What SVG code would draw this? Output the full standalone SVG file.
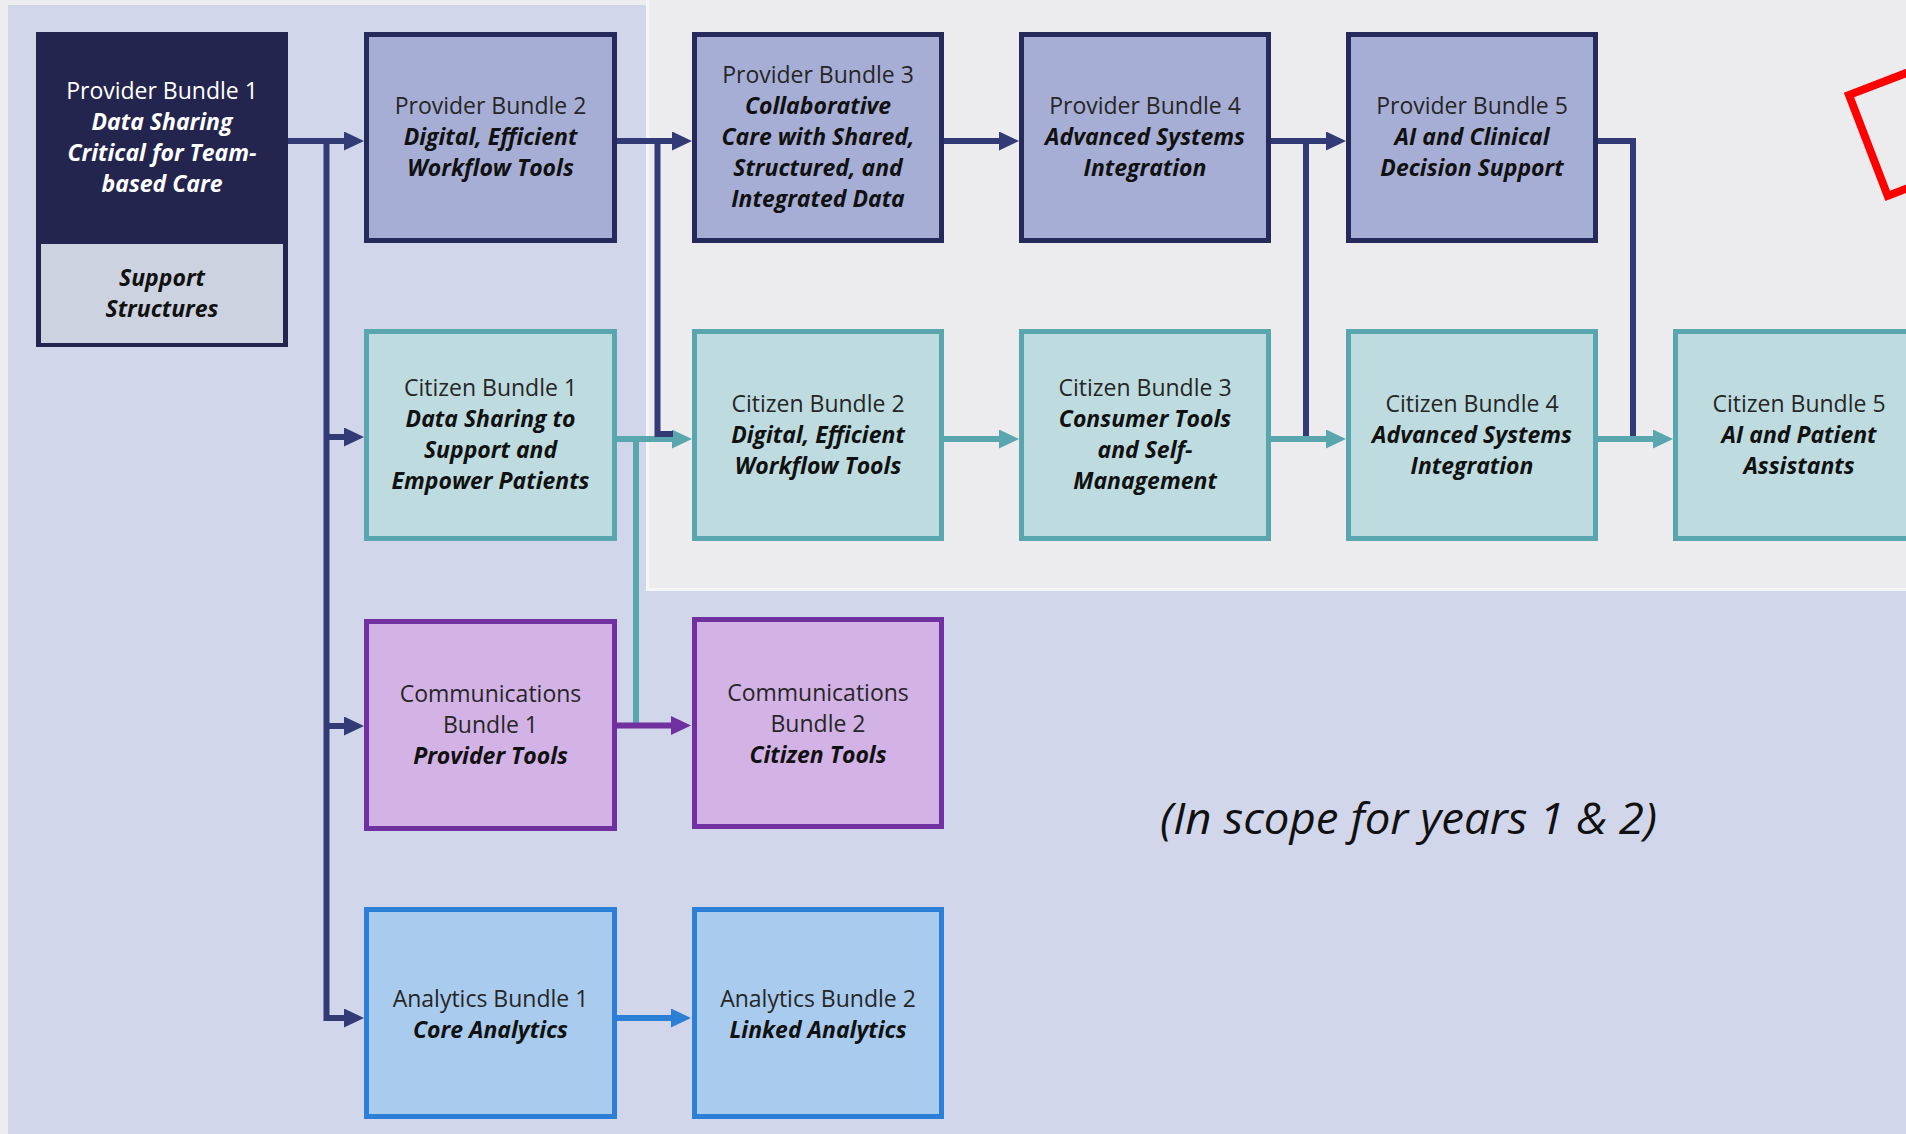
<svg xmlns="http://www.w3.org/2000/svg" width="1906" height="1134" viewBox="0 0 1906 1134">
<style>
.t{font-family:"Open Sans","DejaVu Sans",sans-serif;font-size:23px;text-anchor:middle;fill:#262626}
.s{font-family:"Open Sans","DejaVu Sans",sans-serif;font-size:23px;font-weight:bold;font-style:italic;text-anchor:middle;fill:#111}
.w{fill:#ffffff}
.prov{fill:#a7aed5;stroke:#262a5a;stroke-width:5}
.cit{fill:#bedce0;stroke:#5aa6af;stroke-width:5}
.com{fill:#d3b2e6;stroke:#7030a0;stroke-width:5}
.ana{fill:#a9cbee;stroke:#2b7fd6;stroke-width:5}
.ln{fill:none;stroke-width:6}
.nv{stroke:#323b75}
.tl{stroke:#5aa6af}
.pu{stroke:#7030a0}
.bl{stroke:#2b7fd6}
</style>
<defs>
<marker id="aN" markerUnits="userSpaceOnUse" markerWidth="20" markerHeight="20" refX="10" refY="9.5" orient="auto"><path d="M0,0 L20,9.5 L0,19 z" fill="#323b75"/></marker>
<marker id="aT" markerUnits="userSpaceOnUse" markerWidth="20" markerHeight="20" refX="10" refY="9.5" orient="auto"><path d="M0,0 L20,9.5 L0,19 z" fill="#5aa6af"/></marker>
<marker id="aP" markerUnits="userSpaceOnUse" markerWidth="20" markerHeight="20" refX="10" refY="9.5" orient="auto"><path d="M0,0 L20,9.5 L0,19 z" fill="#7030a0"/></marker>
<marker id="aB" markerUnits="userSpaceOnUse" markerWidth="20" markerHeight="20" refX="10" refY="9.5" orient="auto"><path d="M0,0 L20,9.5 L0,19 z" fill="#2b7fd6"/></marker>
</defs>
<g id="background">
<rect x="0" y="0" width="1906" height="1134" fill="#ededf0"/>
<rect x="8" y="5" width="1898" height="1129" fill="#d1d6ea"/>
<rect x="647" y="0" width="1259" height="590" fill="#ececef"/>
<path d="M647.5,0 V589.5 H1906" fill="none" stroke="#f5f5f8" stroke-width="3"/>
</g>
<g id="connectors">
<path class="ln nv" d="M288,141 H354" marker-end="url(#aN)"/>
<path class="ln nv" d="M326.5,141 V1018 H354" marker-end="url(#aN)"/>
<path class="ln nv" d="M326.5,437 H354" marker-end="url(#aN)"/>
<path class="ln nv" d="M326.5,726 H354" marker-end="url(#aN)"/>
<path class="ln nv" d="M616,141 H682" marker-end="url(#aN)"/>
<path class="ln nv" d="M944,141 H1009" marker-end="url(#aN)"/>
<path class="ln nv" d="M1271,141 H1336" marker-end="url(#aN)"/>
<path class="ln tl" d="M617,439 H682" marker-end="url(#aT)"/>
<path class="ln tl" d="M636,439 V723"/>
<path class="ln tl" d="M944,439 H1009" marker-end="url(#aT)"/>
<path class="ln tl" d="M1271,439 H1336" marker-end="url(#aT)"/>
<path class="ln tl" d="M1598,439 H1663" marker-end="url(#aT)"/>
<path class="ln nv" d="M657.5,141 V434 H673" stroke-width="5"/>
<path class="ln nv" d="M1306,141 V436" stroke-width="5"/>
<path class="ln nv" d="M1598,141 H1633 V436" stroke-width="5"/>
<path class="ln pu" d="M616,725.5 H681" marker-end="url(#aP)"/>
<path class="ln bl" d="M616,1018 H681" marker-end="url(#aB)"/>
</g>
<g id="pb1">
<rect x="38.5" y="34.5" width="247" height="310" fill="#24254f" stroke="#24254f" stroke-width="5"/>
<rect x="41" y="244" width="242" height="99" fill="#cdd2e0"/>
<text class="t w" x="162" y="98.5">Provider Bundle 1</text>
<text class="s w" x="162" y="129.5">Data Sharing</text>
<text class="s w" x="162" y="160.5">Critical for Team-</text>
<text class="s w" x="162" y="191.5">based Care</text>
<text class="s" x="162" y="286">Support</text>
<text class="s" x="162" y="317">Structures</text>
</g>
<g id="pb2">
<rect class="prov" x="366.5" y="34.5" width="248" height="206"/>
<text class="t" x="490.5" y="114">Provider Bundle 2</text>
<text class="s" x="490.5" y="145">Digital, Efficient</text>
<text class="s" x="490.5" y="176">Workflow Tools</text>
</g>
<g id="pb3">
<rect class="prov" x="694.5" y="34.5" width="247" height="206"/>
<text class="t" x="818" y="82.5">Provider Bundle 3</text>
<text class="s" x="818" y="113.5">Collaborative</text>
<text class="s" x="818" y="144.5">Care with Shared,</text>
<text class="s" x="818" y="175.5">Structured, and</text>
<text class="s" x="818" y="206.5">Integrated Data</text>
</g>
<g id="pb4">
<rect class="prov" x="1021.5" y="34.5" width="247" height="206"/>
<text class="t" x="1145" y="114">Provider Bundle 4</text>
<text class="s" x="1145" y="145">Advanced Systems</text>
<text class="s" x="1145" y="176">Integration</text>
</g>
<g id="pb5">
<rect class="prov" x="1348.5" y="34.5" width="247" height="206"/>
<text class="t" x="1472" y="114">Provider Bundle 5</text>
<text class="s" x="1472" y="145">AI and Clinical</text>
<text class="s" x="1472" y="176">Decision Support</text>
</g>
<g id="cb1">
<rect class="cit" x="366.5" y="331.5" width="248" height="207"/>
<text class="t" x="490.5" y="396">Citizen Bundle 1</text>
<text class="s" x="490.5" y="427">Data Sharing to</text>
<text class="s" x="490.5" y="458">Support and</text>
<text class="s" x="490.5" y="489">Empower Patients</text>
</g>
<g id="cb2">
<rect class="cit" x="694.5" y="331.5" width="247" height="207"/>
<text class="t" x="818" y="411.5">Citizen Bundle 2</text>
<text class="s" x="818" y="442.5">Digital, Efficient</text>
<text class="s" x="818" y="473.5">Workflow Tools</text>
</g>
<g id="cb3">
<rect class="cit" x="1021.5" y="331.5" width="247" height="207"/>
<text class="t" x="1145" y="396">Citizen Bundle 3</text>
<text class="s" x="1145" y="427">Consumer Tools</text>
<text class="s" x="1145" y="458">and Self-</text>
<text class="s" x="1145" y="489">Management</text>
</g>
<g id="cb4">
<rect class="cit" x="1348.5" y="331.5" width="247" height="207"/>
<text class="t" x="1472" y="411.5">Citizen Bundle 4</text>
<text class="s" x="1472" y="442.5">Advanced Systems</text>
<text class="s" x="1472" y="473.5">Integration</text>
</g>
<g id="cb5">
<rect class="cit" x="1675.5" y="331.5" width="247" height="207"/>
<text class="t" x="1799" y="411.5">Citizen Bundle 5</text>
<text class="s" x="1799" y="442.5">AI and Patient</text>
<text class="s" x="1799" y="473.5">Assistants</text>
</g>
<g id="comm1">
<rect class="com" x="366.5" y="621.5" width="248" height="207"/>
<text class="t" x="490.5" y="702">Communications</text>
<text class="t" x="490.5" y="733">Bundle 1</text>
<text class="s" x="490.5" y="764">Provider Tools</text>
</g>
<g id="comm2">
<rect class="com" x="694.5" y="619.5" width="247" height="207"/>
<text class="t" x="818" y="700.5">Communications</text>
<text class="t" x="818" y="731.5">Bundle 2</text>
<text class="s" x="818" y="762.5">Citizen Tools</text>
</g>
<g id="ana1">
<rect class="ana" x="366.5" y="909.5" width="248" height="207"/>
<text class="t" x="490.5" y="1007">Analytics Bundle 1</text>
<text class="s" x="490.5" y="1038">Core Analytics</text>
</g>
<g id="ana2">
<rect class="ana" x="694.5" y="909.5" width="247" height="207"/>
<text class="t" x="818" y="1007">Analytics Bundle 2</text>
<text class="s" x="818" y="1038">Linked Analytics</text>
</g>
<g id="scope-note">
<text x="1160" y="834" font-family="'Open Sans','DejaVu Sans',sans-serif" font-size="43" font-style="italic" fill="#111" textLength="497" lengthAdjust="spacingAndGlyphs">(In scope for years 1 &amp; 2)</text>
</g>
<g id="red-marker">
<rect x="0" y="0" width="220" height="108" fill="none" stroke="#ff0000" stroke-width="8" transform="translate(1849,95) rotate(-21)"/>
</g>
</svg>
